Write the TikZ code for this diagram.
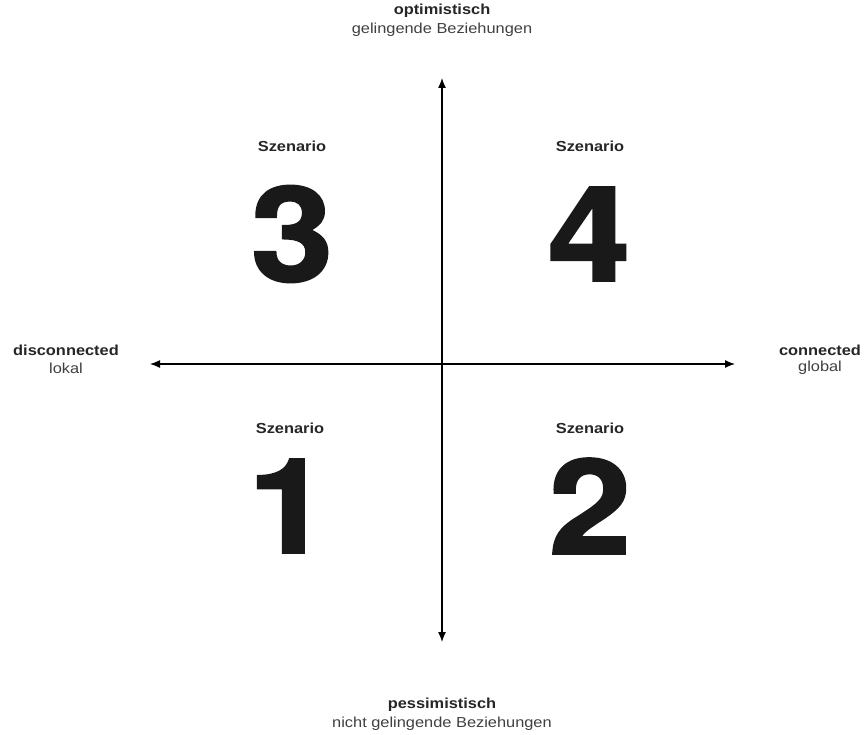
\documentclass[tikz,border=0pt]{standalone}
\usepackage{fontspec}
\setmainfont{Liberation Sans}[FakeStretch=1.13]
\newfontfamily\digitfont{TeX Gyre Heros}[BoldFeatures={FakeBold=1.6}]
\usetikzlibrary{arrows.meta}
\tikzstyle{axis}=[line width=1.3pt, {Latex[length=10pt,width=8pt]}-{Latex[length=10pt,width=8pt]}]
\tikzstyle{title}=[inner sep=0pt, font=\fontsize{14.5}{16}\selectfont\bfseries, text=black!85]
\tikzstyle{sub}=[inner sep=0pt, font=\fontsize{14.5}{16}\selectfont, text=black!75]
\tikzstyle{szen}=[inner sep=0pt, font=\fontsize{14.5}{16}\selectfont\bfseries, text=black!85]
\tikzstyle{digit}=[inner sep=0pt, font=\fontsize{132}{132}\digitfont\bfseries, text=black!90]

\begin{document}
\begin{tikzpicture}[x=1pt,y=-1pt]
				\useasboundingbox (0,0) rectangle (867,735);
				\coordinate (top) at (442,78);
				\coordinate (bottom) at (442,642);
				\coordinate (left) at (150,364);
				\coordinate (right) at (735,364);
				
				\draw[axis] (left) -- (right);
				\draw[axis] (bottom) -- (top);
				
				\node[title] (opt) at (442,11) {optimistisch};
				\node[sub] (optsub) at (442,30) {gelingende Beziehungen};
				\node[title] (pess) at (442,705) {pessimistisch};
				\node[sub] (pesssub) at (442,724) {nicht gelingende Beziehungen};
				\node[title] (disc) at (66,350) {disconnected};
				\node[sub] (discsub) at (66,368) {lokal};
				\node[title] (conn) at (820,350) {connected};
				\node[sub] (connsub) at (820,368) {global};
				
				\node[szen] (s3) at (292,146) {Szenario};
				\node[digit] (n3) at (292,234) {\scalebox{1.12}[1]{3}};
				\node[szen] (s4) at (590,146) {Szenario};
				\node[digit] (n4) at (589,234) {\scalebox{1.12}[1]{4}};
				\node[szen] (s1) at (290,428) {Szenario};
				\node[digit] (n1) at (289,506) {\scalebox{1.12}[1]{1}};
				\node[szen] (s2) at (590,428) {Szenario};
				\node[digit] (n2) at (590,506) {\scalebox{1.12}[1]{2}};
			\end{tikzpicture}
\end{document}
